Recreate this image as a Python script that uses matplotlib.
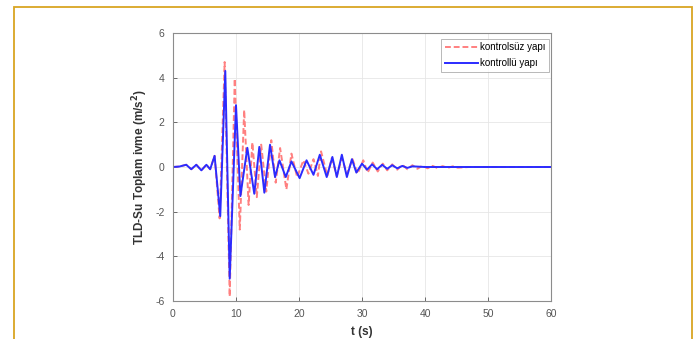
import matplotlib.pyplot as plt
from matplotlib.patches import Rectangle

plt.rcParams['font.family'] = ['Liberation Sans', 'DejaVu Sans']
plt.rcParams['axes.unicode_minus'] = False

# extrema (time in s, acceleration in m/s^2)
t_unc = [0, 1.0, 2.1, 2.9, 3.7, 4.5, 5.3, 5.9, 6.6, 7.4, 8.2, 9.0, 9.8, 10.6, 11.3, 12.0,
         12.6, 13.3, 14.0, 14.8, 15.6, 16.3, 17.0, 18.0, 18.8, 19.7, 20.7, 21.5, 22.3,
         23.0, 23.5, 24.5, 25.2, 26.0, 26.8, 27.6, 28.5, 29.3, 30.2, 30.9, 31.7, 32.5,
         33.3, 34.0, 34.8, 35.6, 36.4, 37.2, 38.0, 38.8, 39.6, 40.4, 41.2, 42.0, 42.8,
         43.6, 44.4, 45.2, 47.0, 60]
a_unc = [0, 0.02, 0.1, -0.1, 0.1, -0.15, 0.1, -0.1, 0.5, -2.3, 4.7, -5.8, 3.95, -2.8, 2.55, -1.7,
         1.1, -1.35, 1.0, -1.1, 1.2, -0.7, 0.85, -1.0, 0.6, -0.45, 0.3, -0.3, 0.35,
         -0.4, 0.7, -0.4, 0.4, -0.4, 0.4, -0.3, 0.35, -0.3, 0.3, -0.25, 0.2, -0.2,
         0.15, -0.15, 0.12, -0.12, 0.1, -0.1, 0.08, -0.08, 0.06, -0.06, 0.05, -0.05, 0.04,
         -0.04, 0.03, -0.03, 0.0, 0.0]

t_con = [0, 1.0, 2.1, 2.9, 3.7, 4.5, 5.3, 5.9, 6.6, 7.5, 8.3, 9.0, 10.0, 10.7, 11.8, 12.9,
         13.7, 14.5, 15.4, 16.2, 16.9, 17.9, 18.8, 20.1, 21.2, 22.3, 23.3, 24.4, 25.3,
         26.0, 26.8, 27.6, 28.4, 29.1, 30.0, 30.8, 31.6, 32.4, 33.2, 34.0, 34.8, 35.6,
         36.4, 37.2, 38.0, 40.0, 60]
a_con = [0, 0.02, 0.1, -0.1, 0.1, -0.15, 0.1, -0.1, 0.5, -2.2, 4.3, -5.0, 2.77, -1.3, 0.86, -1.2,
         0.9, -1.15, 1.0, -0.45, 0.3, -0.45, 0.25, -0.5, 0.3, -0.35, 0.55, -0.45, 0.45,
         -0.45, 0.55, -0.45, 0.35, -0.25, 0.15, -0.12, 0.12, -0.1, 0.1, -0.08, 0.08, -0.06,
         0.05, -0.04, 0.03, 0.0, 0.0]

xticks = [0, 10, 20, 30, 40, 50, 60]
yticks = [-6, -4, -2, 0, 2, 4, 6]

fig = plt.figure(figsize=(6.96, 3.39), dpi=100)
ax = fig.add_axes([173 / 696, 1 - 301 / 339, (551 - 173) / 696, (301 - 33) / 339])

ax.plot(t_unc, a_unc, color='#ff8080', linestyle='--', dashes=(3, 1.5), linewidth=1.4,
        label='kontrolsüz yapı')
ax.plot(t_con, a_con, color='#2b2bff', linestyle='-', linewidth=1.4, label='kontrollü yapı')

ax.set_xlim(0, 60)
ax.set_ylim(-6, 6)
ax.set_xticks(xticks)
ax.set_yticks(yticks)
ax.grid(True, color='#e6e6e6', linewidth=0.6)
ax.set_axisbelow(True)
ax.tick_params(direction='in', length=3, width=0.6, colors='#555555', labelsize=7.5, pad=6)
for s in ax.spines.values():
    s.set_color('#8c8c8c')
    s.set_linewidth(0.8)

ax.set_xlabel('t (s)', fontsize=8.5, fontweight='bold', color='#333333', labelpad=4.5)
ax.set_ylabel('TLD-Su Toplam ivme (m/s$^\\mathbf{2}$)', fontsize=8.5, fontweight='bold',
              color='#333333', labelpad=4)

leg = ax.legend(loc='upper right', fontsize=7, frameon=True, fancybox=False,
                handlelength=3.4, borderpad=0.35, labelspacing=0.6, handletextpad=0.25,
                borderaxespad=0, bbox_to_anchor=(0.995, 0.978))
leg.get_frame().set_edgecolor('#999999')
leg.get_frame().set_linewidth(0.6)

# outer frame around the image
fig.patches.append(Rectangle((13.5 / 696, -0.05), (692 - 13.5) / 696, 1.05 - 7.5 / 339,
                             transform=fig.transFigure, fill=False,
                             edgecolor='#d9a522', linewidth=1.3, clip_on=False))

fig.savefig('out.png', dpi=100)
